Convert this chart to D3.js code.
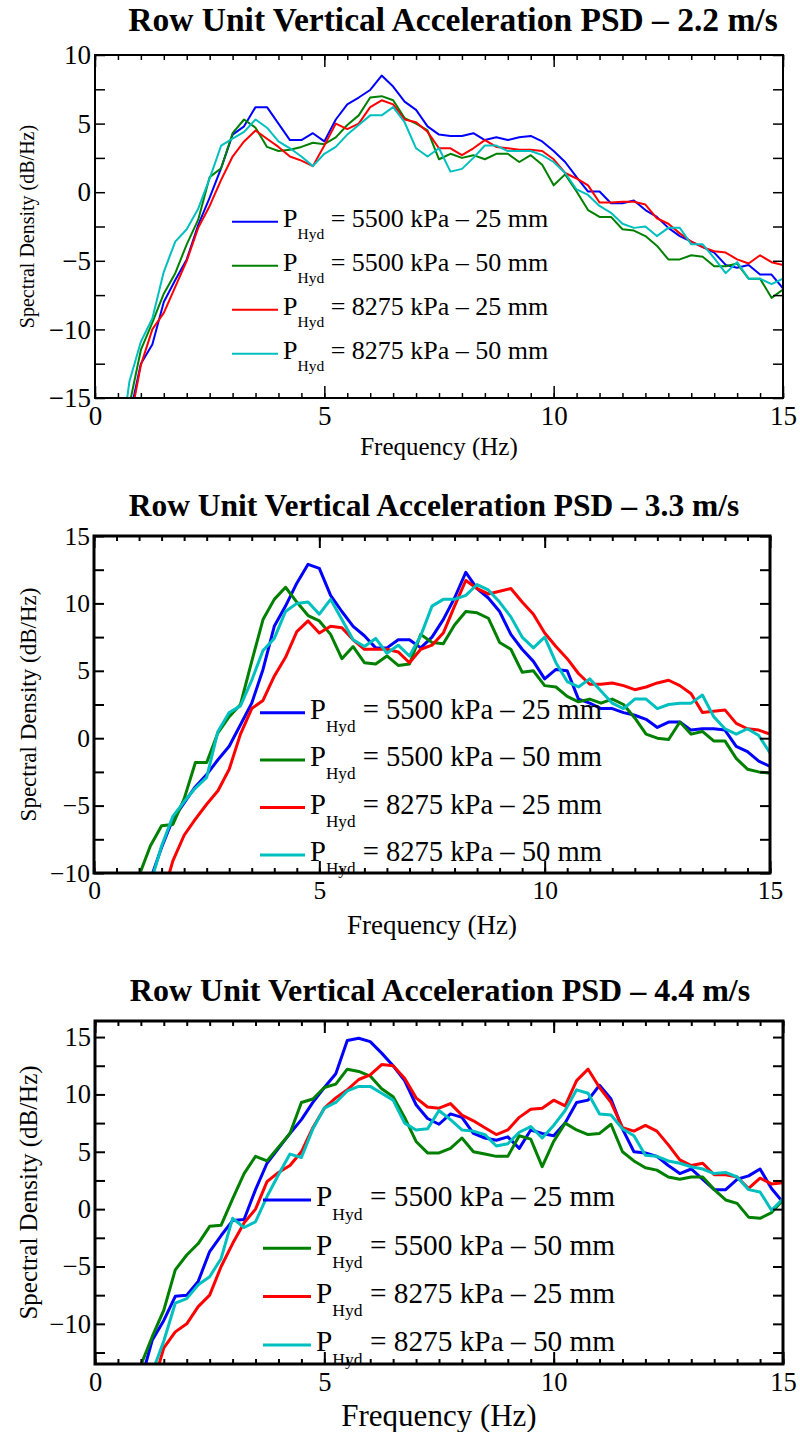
<!DOCTYPE html>
<html>
<head>
<meta charset="utf-8">
<script src="https://cdn.jsdelivr.net/npm/d3@7"></script>
<style>
  html, body { margin: 0; padding: 0; background: #fff; }
  svg { display: block; }
  text { font-family: "Liberation Serif", "Times New Roman", serif; fill: #000; }
</style>
</head>
<body>
<svg id="fig" width="800" height="1432"></svg>
<script>
// Frequency bins (Hz)
const FREQ = [0.5, 0.75,
  1, 1.25, 1.5, 1.75, 2, 2.25, 2.5, 2.75, 3, 3.25, 3.5, 3.75,
  4, 4.25, 4.5, 4.75, 5, 5.25, 5.5, 5.75, 6, 6.25, 6.5, 6.75,
  7, 7.25, 7.5, 7.75, 8, 8.25, 8.5, 8.75, 9, 9.25, 9.5, 9.75,
  10, 10.25, 10.5, 10.75, 11, 11.25, 11.5, 11.75, 12, 12.25, 12.5, 12.75,
  13, 13.25, 13.5, 13.75, 14, 14.25, 14.5, 14.75, 15];

const SERIES_LABELS = [
  ["5500 kPa", "25 mm"],
  ["5500 kPa", "50 mm"],
  ["8275 kPa", "25 mm"],
  ["8275 kPa", "50 mm"]
];
const SERIES_COLORS = ["#0000ff", "#008000", "#ff0000", "#00bfbf"];

const TITLES = [
  "Row Unit Vertical Acceleration PSD \u2013 2.2 m/s",
  "Row Unit Vertical Acceleration PSD \u2013 3.3 m/s",
  "Row Unit Vertical Acceleration PSD \u2013 4.4 m/s"
];
const X_LABEL = "Frequency (Hz)";
const Y_LABEL = "Spectral Density (dB/Hz)";
const X_TICK_MAJOR = [0, 5, 10, 15];

// PSD at 2.2 m/s (dB/Hz)
const psd22_5500_25 = [-22, -16.4,
  -12.5, -11.1, -8.0, -6.4, -4.9, -2.4, -0.4, 1.75, 4.2, 4.8, 6.2, 6.2,
  5.0, 3.8, 3.8, 4.3, 3.7, 5.3, 6.4, 6.9, 7.45, 8.5, 7.7, 6.6,
  6.0, 4.8, 4.2, 4.1, 4.1, 4.3, 3.8, 4.0, 3.8, 4.0, 4.1, 3.7,
  3.0, 2.2, 1.1, 0.05, 0.05, -0.8, -0.8, -0.6, -1.3, -1.8, -2.6, -3.2,
  -3.6, -4.0, -4.4, -5.3, -5.5, -5.3, -6.0, -6.0, -7.0];
const psd22_5500_50 = [-21, -15.5,
  -11.5, -9.5, -7.4, -5.9, -3.8, -2.0, 1.1, 1.75, 4.3, 5.3, 4.7, 3.3,
  3.0, 3.1, 3.3, 3.6, 3.5, 4.0, 4.9, 5.6, 6.9, 7.0, 6.7, 5.4,
  5.0, 4.5, 2.4, 2.8, 2.5, 2.7, 2.4, 2.8, 2.8, 2.2, 2.7, 2.0,
  0.5, 1.3, 0.05, -1.3, -1.8, -1.8, -2.7, -2.8, -3.2, -3.9, -4.9, -4.9,
  -4.6, -4.7, -5.4, -5.4, -5.2, -6.3, -6.3, -7.7, -7.1];
const psd22_8275_25 = [-23, -17,
  -12.6, -10.0, -8.8, -6.9, -5.0, -2.6, -1.0, 0.9, 2.6, 3.7, 4.5, 3.9,
  3.3, 2.6, 2.3, 1.9, 3.4, 5.0, 4.6, 5.0, 6.2, 6.7, 6.4, 5.3,
  5.1, 4.4, 3.2, 3.2, 2.7, 3.2, 3.8, 3.3, 3.2, 3.1, 3.1, 3.0,
  2.4, 1.4, 1.0, 0.5, -0.75, -0.75, -0.7, -0.7, -0.9, -1.9, -2.3, -3.0,
  -3.6, -4.0, -4.3, -4.4, -4.9, -5.2, -4.6, -5.1, -5.3];
const psd22_8275_50 = [-20, -13.8,
  -10.9, -9.2, -5.8, -3.6, -2.7, -1.2, 1.0, 3.4, 3.9, 4.4, 5.3, 4.7,
  3.7, 3.2, 2.6, 1.9, 2.8, 3.3, 4.2, 4.9, 5.6, 5.6, 6.2, 5.1,
  3.2, 2.6, 3.2, 1.5, 1.7, 2.5, 3.4, 3.4, 3.0, 3.0, 3.0, 2.7,
  2.2, 1.4, 0.2, -0.2, -1.0, -1.5, -2.3, -2.6, -2.5, -3.2, -2.6, -2.6,
  -3.8, -3.8, -4.8, -5.9, -5.1, -6.3, -6.3, -6.7, -6.3];

// PSD at 3.3 m/s (dB/Hz)
const psd33_5500_25 = [-20, -18,
  -15, -10.5, -8.1, -6.0, -4.8, -3.6, -2.7, -1.6, -0.6, 1.0, 2.6, 5.1,
  8.3, 9.8, 11.5, 12.9, 12.6, 10.6, 9.4, 8.3, 7.6, 6.7, 6.7, 7.3,
  7.3, 6.7, 7.5, 8.8, 10.4, 12.3, 11.1, 10.4, 9.4, 7.7, 6.6, 5.7,
  4.4, 5.1, 5.0, 2.9, 2.6, 2.2, 2.2, 1.9, 1.7, 1.4, 0.8, 1.2,
  1.2, 0.6, 0.7, 0.7, 0.6, -0.6, -1.0, -1.7, -2.1];
const psd33_5500_50 = [-18, -14,
  -10.2, -8.0, -6.5, -6.4, -4.5, -1.8, -1.8, 0.4, 1.6, 2.5, 5.7, 8.8,
  10.3, 11.2, 10.1, 9.1, 8.7, 7.7, 5.9, 6.8, 5.6, 5.5, 6.1, 5.4,
  5.5, 7.7, 7.1, 7.0, 8.4, 9.4, 9.3, 8.9, 7.1, 6.6, 4.9, 5.0,
  3.9, 3.8, 3.1, 2.7, 2.9, 2.6, 2.9, 2.5, 1.5, 0.3, 0.0, -0.1,
  1.2, 0.3, 0.5, -0.2, -0.2, -1.5, -2.3, -2.5, -2.6];
const psd33_8275_25 = [-22, -20,
  -18, -15, -12, -9.1, -7.2, -6.0, -4.9, -3.9, -2.3, 0.3, 2.2, 2.8,
  4.6, 6.0, 7.9, 8.7, 7.8, 8.3, 8.2, 7.3, 6.6, 6.6, 6.6, 6.4,
  5.6, 6.6, 6.9, 7.8, 9.8, 11.7, 11.1, 10.7, 10.9, 11.1, 10.1, 9.2,
  7.8, 6.8, 5.9, 4.8, 4.0, 4.0, 4.1, 3.9, 3.6, 3.8, 4.1, 4.3,
  3.9, 3.3, 1.9, 2.0, 2.1, 1.1, 0.7, 0.6, 0.3];
const psd33_8275_50 = [-20, -18,
  -15, -10.8, -8.0, -5.8, -4.7, -3.7, -2.9, 0.5, 1.9, 2.4, 4.3, 6.5,
  7.4, 9.4, 10.0, 10.1, 9.2, 10.3, 8.8, 7.3, 6.8, 7.4, 6.3, 6.9,
  6.1, 7.6, 9.8, 10.3, 10.3, 10.6, 11.4, 11.0, 10.1, 9.0, 7.5, 6.7,
  7.5, 5.6, 4.2, 3.8, 4.4, 3.5, 2.6, 2.2, 2.9, 2.9, 2.2, 2.5,
  2.6, 2.6, 3.2, 1.6, 0.7, 0.3, 0.7, 0.2, -1.1];

// PSD at 4.4 m/s (dB/Hz)
const psd44_5500_25 = [-22, -18,
  -15, -11.4, -9.7, -7.6, -7.5, -6.3, -3.7, -2.3, -1.0, -0.9, 1.7, 4.0,
  5.3, 6.6, 7.8, 9.3, 10.6, 11.8, 14.7, 14.9, 14.6, 13.6, 12.5, 11.2,
  9.1, 7.9, 7.4, 8.3, 8.0, 6.6, 6.2, 6.0, 6.3, 5.3, 6.9, 6.6,
  6.4, 7.5, 9.3, 9.5, 10.8, 9.6, 7.0, 5.0, 4.9, 4.6, 3.8, 3.1,
  3.5, 2.6, 1.7, 1.7, 2.6, 2.9, 3.5, 1.8, 0.6];
const psd44_5500_50 = [-22, -17,
  -13.6, -11.1, -8.8, -5.3, -4.0, -3.0, -1.5, -1.4, 0.9, 3.1, 4.6, 4.2,
  5.4, 6.6, 9.3, 9.6, 10.6, 10.9, 12.2, 12.0, 11.6, 10.5, 9.8, 8.0,
  5.9, 4.9, 4.9, 5.3, 6.2, 5.0, 4.8, 4.6, 4.6, 6.4, 6.1, 3.7,
  5.9, 7.5, 6.9, 6.5, 6.6, 7.4, 5.0, 4.2, 3.6, 3.4, 2.8, 2.6,
  2.8, 2.8, 1.7, 0.8, 0.5, -0.7, -0.8, -0.3, 0.8];
const psd44_8275_25 = [-25, -22,
  -19, -15.5, -12.1, -10.7, -10.0, -8.5, -7.5, -5.0, -3.0, -1.2, 0.0, 2.4,
  3.2, 3.8, 5.0, 7.1, 8.8, 9.7, 10.4, 11.3, 11.7, 12.6, 12.5, 11.4,
  9.7, 8.9, 8.8, 9.2, 8.2, 7.7, 7.1, 6.5, 6.9, 8.0, 8.7, 8.8,
  9.5, 9.0, 11.2, 12.2, 10.6, 9.3, 7.1, 6.8, 7.3, 6.8, 5.6, 4.3,
  3.8, 4.0, 3.0, 3.0, 2.8, 1.8, 2.7, 2.2, 2.3];
const psd44_8275_50 = [-24, -20,
  -17, -14.2, -11.5, -8.2, -7.8, -6.6, -5.9, -4.3, -0.8, -1.6, -1.1, 1.1,
  3.0, 4.8, 4.5, 7.0, 8.8, 9.3, 10.3, 10.7, 10.7, 10.1, 9.5, 7.5,
  6.9, 7.0, 8.6, 7.8, 6.9, 6.8, 6.5, 5.5, 5.7, 6.7, 7.2, 6.2,
  7.3, 8.6, 10.4, 10.1, 8.3, 8.2, 7.0, 6.4, 4.7, 4.6, 4.2, 4.0,
  3.7, 3.5, 3.1, 3.2, 2.8, 1.7, 1.5, -0.1, 0.9];

const Y_DOMAINS = [[-15, 10], [-10, 15], [-13.5, 16.4]];
const Y_TICKS = [
  [-15, -12.5, -10, -7.5, -5, -2.5, 0, 2.5, 5, 7.5, 10],
  [-10, -7.5, -5, -2.5, 0, 2.5, 5, 7.5, 10, 12.5, 15],
  [-12.5, -10, -7.5, -5, -2.5, 0, 2.5, 5, 7.5, 10, 12.5, 15]
];

const PANEL_SERIES = [
  [psd22_5500_25, psd22_5500_50, psd22_8275_25, psd22_8275_50],
  [psd33_5500_25, psd33_5500_50, psd33_8275_25, psd33_8275_50],
  [psd44_5500_25, psd44_5500_50, psd44_8275_25, psd44_8275_50]
];

// Layout of each panel
const LAYOUT = [
  { left: 95, right: 783, top: 55, bottom: 398, stroke: 2, frame: 2,
    titleX: 453, titleY: 31, titleSize: 33.5, tickSize: 27, tickPad: 8,
    xlabSize: 25, xlabY: 455, ylabSize: 20, ylabX: 34,
    leg: { x1: 232, x2: 278, tx: 283, y0: 221.7, dy: 44, size: 26, sub: 15.5 } },
  { left: 94, right: 770, top: 536, bottom: 873, stroke: 3, frame: 3,
    titleX: 434, titleY: 516, titleSize: 31.5, tickSize: 25.5, tickPad: 8,
    xlabSize: 27, xlabY: 934, ylabSize: 23, ylabX: 36,
    leg: { x1: 260, x2: 305, tx: 310, y0: 712.7, dy: 47.4, size: 28.6, sub: 17.2 } },
  { left: 95, right: 783, top: 1021, bottom: 1364, stroke: 3, frame: 3,
    titleX: 440, titleY: 1001, titleSize: 32, tickSize: 26.5, tickPad: 8,
    xlabSize: 31, xlabY: 1426, ylabSize: 25, ylabX: 37,
    leg: { x1: 263, x2: 311, tx: 316, y0: 1200, dy: 48.3, size: 29.3, sub: 17.6 } }
];

const svg = d3.select("#fig");

function minorXTicks() {
  const t = [];
  for (let k = 0; k <= 30; k++) t.push(k * 0.5);
  return t;
}

function drawPanel(i) {
  const L = LAYOUT[i];
  const g = svg.append("g");
  const x = d3.scaleLinear().domain([0, 15]).range([L.left, L.right]);
  const y = d3.scaleLinear().domain(Y_DOMAINS[i]).range([L.bottom, L.top]);
  const w = L.right - L.left, h = L.bottom - L.top;

  const clipId = "clip" + i;
  g.append("clipPath").attr("id", clipId)
    .append("rect").attr("x", L.left).attr("y", L.top).attr("width", w).attr("height", h);

  // data curves
  const line = d3.line().x((d, j) => x(FREQ[j])).y(d => y(d));
  const curves = g.append("g").attr("clip-path", `url(#${clipId})`);
  PANEL_SERIES[i].forEach((vals, s) => {
    curves.append("path").datum(vals)
      .attr("d", line)
      .attr("fill", "none")
      .attr("stroke", SERIES_COLORS[s])
      .attr("stroke-width", L.stroke)
      .attr("stroke-linejoin", "round");
  });

  // axes: inward ticks on all four sides
  const minor = minorXTicks();
  const styleAxis = sel => {
    sel.select(".domain").remove();
    sel.selectAll("line").attr("stroke", "#000").attr("stroke-width", L.frame === 2 ? 1.5 : 2);
  };
  g.append("g").attr("transform", `translate(0,${L.bottom})`)
    .call(d3.axisBottom(x).tickValues(minor).tickSize(-5).tickFormat(""))
    .call(styleAxis);
  g.append("g").attr("transform", `translate(0,${L.top})`)
    .call(d3.axisTop(x).tickValues(minor).tickSize(-5).tickFormat(""))
    .call(styleAxis);
  const xb = g.append("g").attr("transform", `translate(0,${L.bottom})`)
    .call(d3.axisBottom(x).tickValues(X_TICK_MAJOR).tickSize(-12).tickPadding(L.tickPad).tickFormat(d3.format("d")))
    .call(styleAxis);
  g.append("g").attr("transform", `translate(0,${L.top})`)
    .call(d3.axisTop(x).tickValues(X_TICK_MAJOR).tickSize(-12).tickFormat(""))
    .call(styleAxis);
  const yl = g.append("g").attr("transform", `translate(${L.left},0)`)
    .call(d3.axisLeft(y).tickValues(Y_TICKS[i]).tickSize(-10).tickPadding(4)
      .tickFormat(d => (d % 5 === 0 ? d3.format("d")(d) : "")))
    .call(styleAxis);
  g.append("g").attr("transform", `translate(${L.right},0)`)
    .call(d3.axisRight(y).tickValues(Y_TICKS[i]).tickSize(-10).tickFormat(""))
    .call(styleAxis);

  [xb, yl].forEach(a => a.selectAll("text")
    .attr("font-family", "'Liberation Serif', 'Times New Roman', serif")
    .attr("font-size", L.tickSize).attr("fill", "#000"));

  // frame
  g.append("rect")
    .attr("x", L.left).attr("y", L.top).attr("width", w).attr("height", h)
    .attr("fill", "none").attr("stroke", "#000").attr("stroke-width", L.frame);

  // title and axis labels
  g.append("text")
    .attr("x", L.titleX).attr("y", L.titleY)
    .attr("text-anchor", "middle").attr("font-weight", "bold")
    .attr("font-size", L.titleSize).text(TITLES[i]);
  g.append("text")
    .attr("x", (L.left + L.right) / 2).attr("y", L.xlabY)
    .attr("text-anchor", "middle").attr("font-size", L.xlabSize).text(X_LABEL);
  g.append("text")
    .attr("transform", `translate(${L.ylabX},${(L.top + L.bottom) / 2}) rotate(-90)`)
    .attr("text-anchor", "middle").attr("font-size", L.ylabSize).text(Y_LABEL);

  // legend
  const lg = L.leg;
  SERIES_LABELS.forEach((lab, s) => {
    const ly = lg.y0 + s * lg.dy;
    g.append("line")
      .attr("x1", lg.x1).attr("x2", lg.x2).attr("y1", ly).attr("y2", ly)
      .attr("stroke", SERIES_COLORS[s]).attr("stroke-width", L.stroke);
    const t = g.append("text")
      .attr("x", lg.tx).attr("y", ly + lg.size * 0.22)
      .attr("font-size", lg.size);
    t.append("tspan").text("P");
    t.append("tspan").attr("font-size", lg.sub).attr("dy", lg.size * 0.45).text("Hyd");
    t.append("tspan").attr("dy", -lg.size * 0.45).text(` = ${lab[0]} \u2013 ${lab[1]}`);
  });
}

[0, 1, 2].forEach(drawPanel);
</script>
</body>
</html>
